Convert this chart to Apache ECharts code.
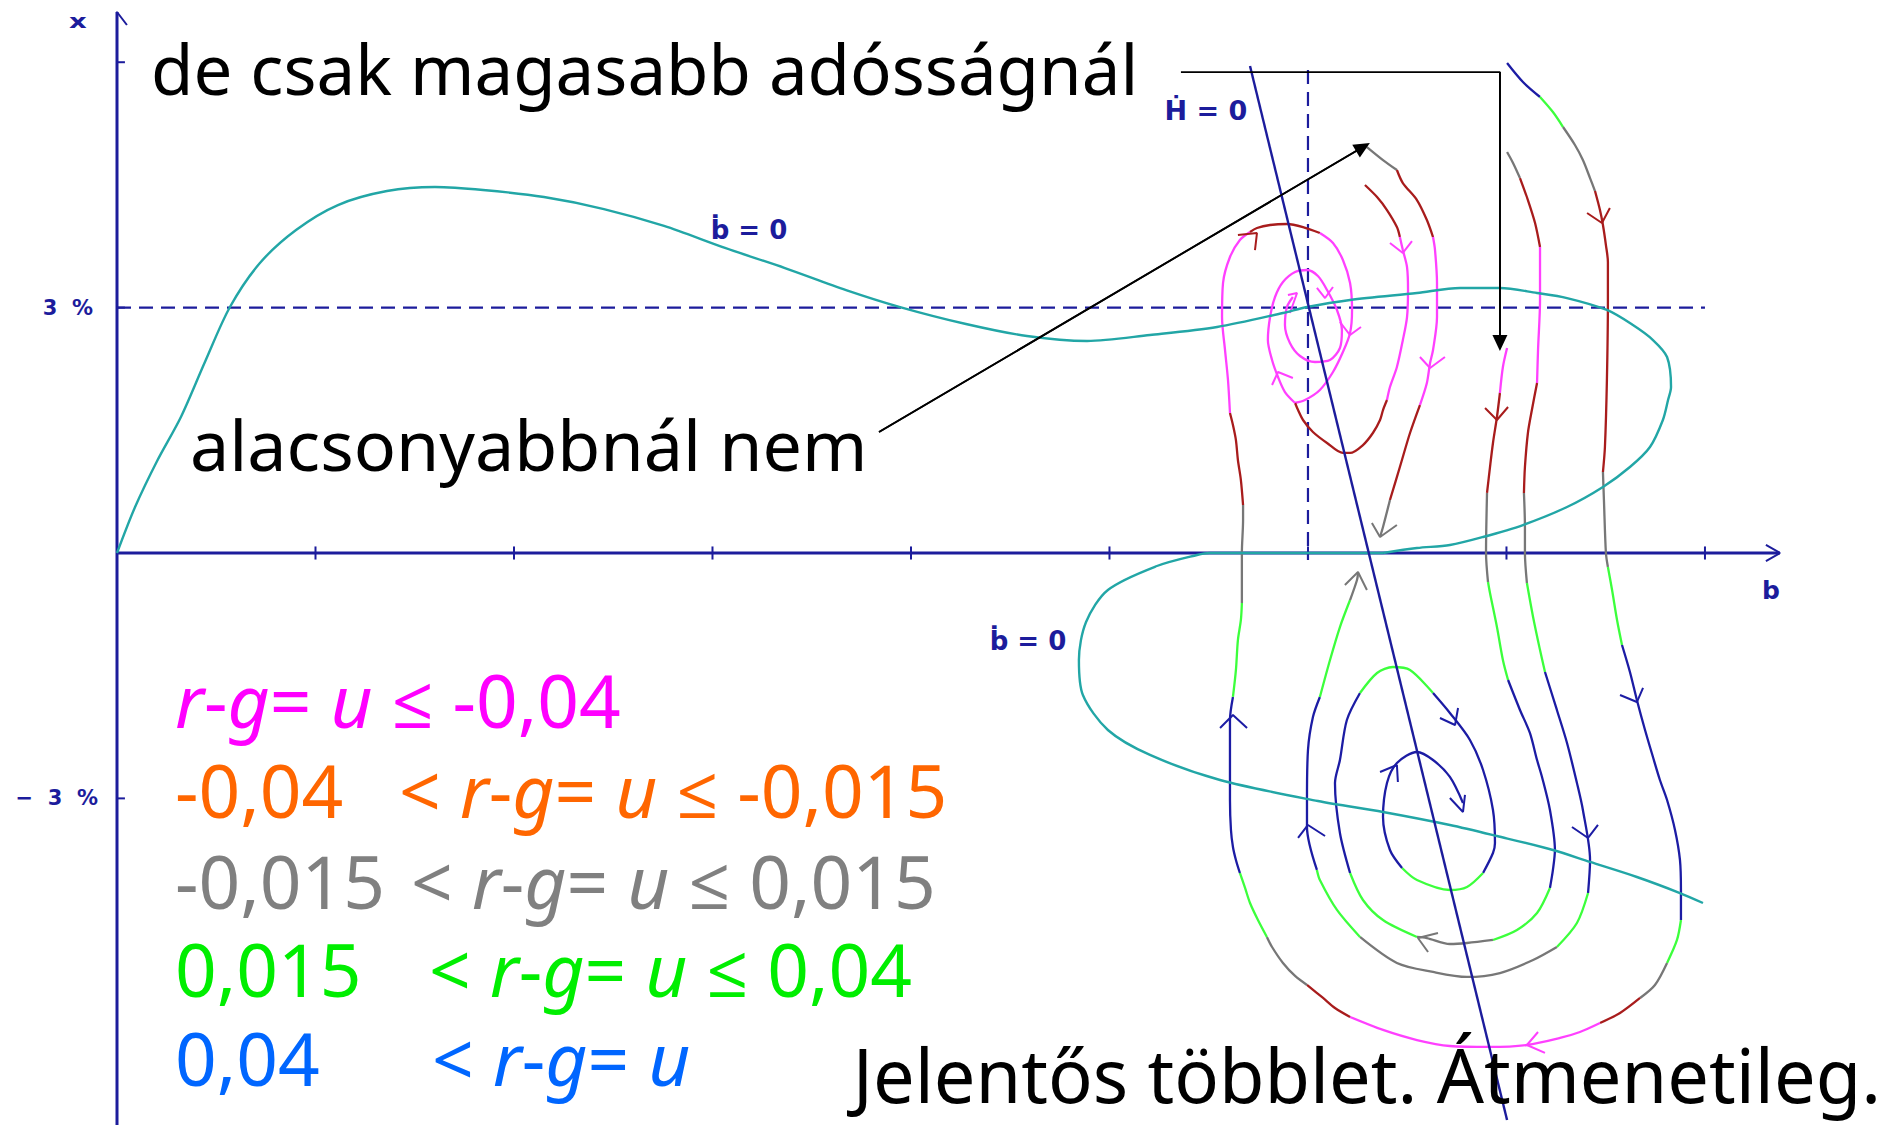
<!DOCTYPE html>
<html>
<head>
<meta charset="utf-8">
<script src="https://cdn.jsdelivr.net/npm/echarts@6/dist/echarts.min.js"></script>
<style>
  html, body { margin: 0; padding: 0; background: #ffffff; }
  #chart { width: 1894px; height: 1125px; }
</style>
</head>
<body>
<div id="chart"></div>
<script>
// ---- phase plane: b (debt) on the horizontal axis, x (primary balance, %) vertically ----
// regimes of u = r - g : 0 magenta, 1 dark red, 2 gray, 3 green, 4 blue
const REGIME_COLORS = ['#ff40ff', '#a81c1c', '#777777', '#3cff3c', '#1c1ca4'];
const AXIS_BLUE = '#1c1c9c';
const TEAL = '#22a6a6';

const B_MAX = 8.378, X_MIN = -6.993, X_MAX = 6.614;
const xTickValues = [1, 2, 3, 4, 5, 6, 7, 8];
const yTickValues = [6, 3, -3];
const yTickLabels = ['3  %', '\u2212  3  %'];

// b-dot = 0 isocline
const bNullUpper = [[0,0],[0.091,0.562],[0.202,1.125],[0.322,1.663],[0.443,2.335],[0.569,3.007],[0.720,3.545],[0.902,3.949],[1.113,4.254],[1.360,4.425],[1.602,4.474],[1.844,4.438],[2.151,4.352],[2.453,4.205],[2.756,3.998],[3.063,3.729],[3.365,3.484],[3.673,3.215],[3.945,3.007],[4.277,2.800],[4.584,2.653],[4.887,2.592],[5.204,2.665],[5.542,2.763],[5.874,2.934],[5.995,3.007],[6.212,3.093],[6.549,3.179],[6.766,3.240],[6.967,3.240],[7.154,3.179],[7.305,3.117],[7.506,2.971],[7.637,2.787],[7.738,2.604],[7.809,2.396],[7.829,2.029],[7.814,1.870],[7.788,1.626],[7.723,1.296],[7.622,1.051],[7.486,0.807],[7.305,0.562],[7.083,0.342],[6.882,0.196],[6.715,0.098],[6.549,0.061],[6.378,0]];
const bNullLower = [[6.378,0],[5.506,0],[5.441,-0.024],[5.239,-0.159],[4.992,-0.452],[4.882,-0.844],[4.846,-1.308],[4.866,-1.736],[4.992,-2.164],[5.204,-2.469],[5.557,-2.775],[6.050,-3.032],[6.378,-3.166],[6.715,-3.325],[6.952,-3.460],[7.234,-3.631],[7.421,-3.777],[7.657,-3.961],[7.874,-4.157],[7.990,-4.279]];

// H-dot = 0 isocline
const hNull = [[5.708,5.953],[7.003,-6.932]];

// reference levels
const dashX3 = [[0,3],[8,3]];
const dashB6 = [[6,5.905],[6,-0.086]];

// trajectories: [regime, points]
const trajOuter = [
  [4, [[7.003,5.990],[7.083,5.758],[7.169,5.575]]],
  [3, [[7.169,5.575],[7.234,5.391],[7.285,5.208]]],
  [2, [[7.285,5.208],[7.345,4.988],[7.385,4.804],[7.421,4.584],[7.446,4.425]]],
  [1, [[7.446,4.425],[7.471,4.193],[7.486,4.010],[7.501,3.765],[7.511,3.557],[7.511,3.093],[7.506,2.115],[7.496,1.296],[7.486,0.990]]],
  [2, [[7.486,0.990],[7.491,0.648],[7.501,0],[7.511,-0.171]]],
  [3, [[7.511,-0.171],[7.532,-0.452],[7.557,-0.819],[7.582,-1.125]]],
  [4, [[7.582,-1.125],[7.622,-1.455],[7.657,-1.797],[7.698,-2.164],[7.738,-2.494],[7.773,-2.775],[7.809,-3.020],[7.849,-3.386],[7.874,-3.753],[7.879,-4.120],[7.879,-4.487]]],
  [3, [[7.879,-4.487],[7.859,-4.731],[7.809,-5.012]]],
  [2, [[7.809,-5.012],[7.748,-5.281],[7.673,-5.440]]],
  [1, [[7.673,-5.440],[7.572,-5.624],[7.471,-5.746]]],
  [0, [[7.471,-5.746],[7.370,-5.856],[7.270,-5.929],[7.103,-6.015],[6.917,-6.039],[6.715,-6.027],[6.549,-5.954],[6.378,-5.831],[6.212,-5.672]]],
  [1, [[6.212,-5.672],[6.136,-5.562],[6.076,-5.440],[5.995,-5.281]]],
  [2, [[5.995,-5.281],[5.935,-5.171],[5.874,-5.012],[5.819,-4.817],[5.793,-4.694]]],
  [3, [[5.793,-4.694],[5.748,-4.487],[5.708,-4.279],[5.683,-4.095],[5.657,-3.912]]],
  [4, [[5.657,-3.912],[5.637,-3.753],[5.622,-3.594],[5.612,-3.386],[5.607,-3.020],[5.607,-2.531],[5.607,-2.042],[5.622,-1.760]]],
  [3, [[5.622,-1.760],[5.637,-1.430],[5.647,-1.064],[5.662,-0.819],[5.667,-0.611]]],
  [2, [[5.667,-0.611],[5.667,-0.208],[5.667,0],[5.673,0.403],[5.673,0.587]]],
  [1, [[5.673,0.587],[5.662,0.892],[5.647,1.137],[5.637,1.381],[5.622,1.565],[5.607,1.712]]],
  [0, [[5.607,1.712],[5.597,2.115],[5.582,2.482],[5.567,2.885],[5.572,3.301],[5.607,3.619],[5.657,3.826],[5.708,3.924]]],
  [1, [[5.708,3.924],[5.743,3.973],[5.809,4.010],[5.894,4.022],[5.975,3.985],[6.060,3.912]]],
  [0, [[6.060,3.912],[6.126,3.790],[6.176,3.582],[6.212,3.301],[6.222,2.971],[6.212,2.690],[6.176,2.457],[6.126,2.213],[6.060,1.993],[5.985,1.870],[5.935,1.834]]]
];
const trajSpiral = [
  [1, [[6.287,4.499],[6.348,4.352],[6.398,4.193],[6.448,3.985],[6.463,3.863]]],
  [0, [[6.463,3.863],[6.478,3.704],[6.499,3.496],[6.504,3.215],[6.499,2.885],[6.478,2.604],[6.448,2.274],[6.413,2.029],[6.398,1.870]]],
  [1, [[6.398,1.870],[6.378,1.748],[6.363,1.626],[6.327,1.467],[6.277,1.320],[6.212,1.223],[6.176,1.223],[6.096,1.345],[6.025,1.479],[5.975,1.626],[5.950,1.748],[5.935,1.834]]],
  [0, [[5.935,1.834],[5.884,1.968],[5.849,2.152],[5.819,2.359],[5.798,2.604],[5.809,2.885],[5.834,3.130],[5.874,3.313],[5.935,3.435],[5.995,3.460],[6.050,3.386],[6.096,3.215],[6.146,2.971],[6.171,2.726],[6.161,2.506],[6.111,2.359],[6.035,2.335],[5.960,2.408],[5.909,2.567],[5.884,2.787],[5.894,3.007],[5.924,3.130]]]
];
const trajHigh = [
  [2, [[6.297,4.963],[6.378,4.804],[6.448,4.682]]],
  [1, [[6.448,4.682],[6.478,4.523],[6.549,4.315],[6.599,4.071],[6.630,3.863]]],
  [0, [[6.630,3.863],[6.640,3.704],[6.650,3.301],[6.650,2.885],[6.630,2.482],[6.615,2.323],[6.599,2.078],[6.564,1.809]]],
  [1, [[6.564,1.809],[6.514,1.467],[6.463,1.051],[6.413,0.648]]],
  [2, [[6.413,0.648],[6.378,0.318],[6.363,0.196]]]
];
const trajMid = [
  [2, [[7.003,4.902],[7.033,4.768],[7.068,4.584]]],
  [1, [[7.068,4.584],[7.108,4.315],[7.144,4.034],[7.169,3.741]]],
  [0, [[7.169,3.741],[7.169,3.093],[7.159,2.482],[7.154,2.078]]],
  [1, [[7.154,2.078],[7.128,1.748],[7.108,1.467],[7.093,1.051],[7.088,0.734]]],
  [2, [[7.088,0.734],[7.093,0.318],[7.093,0],[7.103,-0.367]]],
  [3, [[7.103,-0.367],[7.134,-0.782],[7.169,-1.186],[7.194,-1.455]]],
  [4, [[7.194,-1.455],[7.254,-1.919],[7.305,-2.323],[7.355,-2.812],[7.385,-3.142],[7.421,-3.753],[7.411,-4.157]]],
  [3, [[7.411,-4.157],[7.355,-4.523],[7.254,-4.817]]],
  [2, [[7.254,-4.817],[7.134,-4.976],[6.967,-5.135],[6.801,-5.183],[6.630,-5.122],[6.448,-5.012],[6.262,-4.694]]],
  [3, [[6.262,-4.694],[6.146,-4.364],[6.060,-3.998],[6.045,-3.875]]],
  [4, [[6.045,-3.875],[5.995,-3.350],[5.995,-3.020],[6.000,-2.408],[6.025,-2.005],[6.060,-1.760]]],
  [3, [[6.060,-1.760],[6.111,-1.308],[6.161,-0.905],[6.212,-0.575]]],
  [2, [[6.212,-0.575],[6.247,-0.330],[6.252,-0.245]]]
];
const trajInner = [
  [0, [[7.003,2.506],[6.982,2.274],[6.967,1.956]]],
  [1, [[6.967,1.956],[6.952,1.663],[6.932,1.345],[6.917,1.051],[6.902,0.734]]],
  [2, [[6.902,0.734],[6.897,0],[6.907,-0.355]]],
  [3, [[6.907,-0.355],[6.917,-0.489],[6.952,-0.905],[6.982,-1.308],[7.008,-1.553]]],
  [4, [[7.008,-1.553],[7.068,-1.919],[7.118,-2.200],[7.154,-2.531],[7.179,-2.738],[7.219,-3.142],[7.244,-3.631],[7.234,-3.875],[7.219,-4.095]]],
  [3, [[7.219,-4.095],[7.154,-4.401],[7.053,-4.609],[6.932,-4.731]]],
  [2, [[6.932,-4.731],[6.801,-4.768],[6.715,-4.780],[6.599,-4.707],[6.549,-4.694]]],
  [3, [[6.549,-4.694],[6.378,-4.487],[6.277,-4.242],[6.212,-3.912]]],
  [4, [[6.212,-3.912],[6.161,-3.423],[6.136,-2.812],[6.161,-2.531],[6.196,-2.042],[6.262,-1.712]]],
  [3, [[6.262,-1.712],[6.348,-1.467],[6.428,-1.394],[6.514,-1.430],[6.630,-1.712]]],
  [4, [[6.630,-1.712],[6.715,-1.956],[6.816,-2.286],[6.882,-2.653],[6.932,-3.142],[6.942,-3.545],[6.932,-3.668],[6.882,-3.912]]],
  [3, [[6.882,-3.912],[6.801,-4.083],[6.715,-4.120],[6.549,-3.998],[6.474,-3.851]]],
  [4, [[6.474,-3.851],[6.413,-3.631],[6.378,-3.227],[6.398,-2.812],[6.448,-2.567],[6.549,-2.433],[6.630,-2.531],[6.715,-2.738],[6.781,-3.056]]]
];

// direction marks on the trajectories: [regime, [arm, tip, arm]]
const arrowHeads = [
  [1, [[7.406,4.157],[7.481,4.034],[7.521,4.218]]],
  [4, [[7.572,-1.736],[7.657,-1.822],[7.688,-1.650]]],
  [0, [[7.159,-5.856],[7.103,-6.015],[7.194,-6.112]]],
  [4, [[5.557,-2.139],[5.622,-1.980],[5.693,-2.139]]],
  [1, [[5.647,3.888],[5.743,3.912],[5.733,3.704]]],
  [0, [[6.161,2.824],[6.212,2.665],[6.267,2.763]]],
  [0, [[6.045,3.240],[6.086,3.117],[6.126,3.252]]],
  [0, [[5.819,2.054],[5.849,2.213],[5.924,2.139]]],
  [0, [[6.413,3.790],[6.478,3.668],[6.524,3.814]]],
  [0, [[6.564,2.396],[6.615,2.262],[6.690,2.396]]],
  [2, [[6.322,0.367],[6.363,0.196],[6.448,0.342]]],
  [2, [[6.186,-0.391],[6.252,-0.232],[6.297,-0.452]]],
  [4, [[7.330,-3.350],[7.411,-3.484],[7.461,-3.325]]],
  [4, [[5.950,-3.484],[6.000,-3.325],[6.086,-3.460]]],
  [1, [[6.892,1.773],[6.952,1.626],[7.008,1.785]]],
  [2, [[6.655,-4.646],[6.554,-4.707],[6.605,-4.878]]],
  [4, [[6.665,-2.017],[6.741,-2.103],[6.756,-1.895]]],
  [4, [[6.363,-2.677],[6.448,-2.592],[6.453,-2.800]]],
  [4, [[6.715,-2.995],[6.781,-3.166],[6.791,-2.958]]],
  [0, [[5.899,3.154],[5.945,3.179],[5.909,2.934]]]
];

// annotation pointers
const pointerHigh = [[5.360,5.880],[6.967,5.880],[6.967,2.567]];
const pointerLow = [[3.839,1.479],[6.277,4.963]];

// ---- build series ----
const series = [];
function addLine(data, color, width, z, extra) {
  series.push(Object.assign({
    type: 'line', data: data, symbol: 'none', showSymbol: false,
    clip: false, silent: true, animation: false, z: z,
    lineStyle: { color: color, width: width }
  }, extra || {}));
}

// axes with open arrow heads and ticks
addLine([[0, X_MIN], [0, X_MAX]], AXIS_BLUE, 3, 1);
addLine([[0, 0], [B_MAX, 0]], AXIS_BLUE, 3, 1);
addLine([[-0.050, 6.455], [0, X_MAX], [0.050, 6.455]], AXIS_BLUE, 2, 1);
addLine([[B_MAX - 0.071, 0.098], [B_MAX, 0], [B_MAX - 0.071, -0.098]], AXIS_BLUE, 2, 1);
xTickValues.forEach(v => addLine([[v, -0.08], [v, 0.08]], AXIS_BLUE, 2, 1));
yTickValues.forEach(v => addLine([[-0.045, v], [0.040, v]], AXIS_BLUE, 2, 1));

// dashed reference levels
addLine(dashX3, AXIS_BLUE, 2.2, 2, { lineStyle: { color: AXIS_BLUE, width: 2.2, type: [14, 8] } });
addLine(dashB6, AXIS_BLUE, 2.2, 2, { lineStyle: { color: AXIS_BLUE, width: 2.2, type: [14, 8] } });

// trajectories
[trajOuter, trajSpiral, trajHigh, trajMid, trajInner].forEach(path => {
  path.forEach(([reg, pts]) => addLine(pts, REGIME_COLORS[reg], 2.3, 3, { smooth: 0.3 }));
});
arrowHeads.forEach(([reg, pts]) => addLine(pts, REGIME_COLORS[reg], 2, 3));

// isoclines
addLine(bNullUpper, TEAL, 2.4, 4, { smooth: 0.3 });
addLine(bNullLower, TEAL, 2.4, 4, { smooth: 0.3 });
addLine(hNull, AXIS_BLUE, 2.4, 5);

// annotation pointers
addLine(pointerHigh, '#000000', 1.8, 6, {
  markLine: {
    silent: true, animation: false, symbol: ['none', 'triangle'], symbolSize: [15, 16],
    lineStyle: { color: '#000000', width: 1.8, type: 'solid' }, label: { show: false },
    data: [[{ coord: pointerHigh[1] }, { coord: pointerHigh[2] }]]
  }
});
addLine(pointerLow, '#000000', 1.8, 6, {
  markLine: {
    silent: true, animation: false, symbol: ['none', 'triangle'], symbolSize: [15, 16],
    lineStyle: { color: '#000000', width: 1.8, type: 'solid' }, label: { show: false },
    data: [[{ coord: pointerLow[0] }, { coord: pointerLow[1] }]]
  }
});

// ---- text ----
const SANS = '"Noto Sans", "Open Sans", sans-serif';
const SMALL = '"DejaVu Sans", sans-serif';
function txt(x, y, text, size, fill, align, family, weight, extra) {
  return Object.assign({
    type: 'text', x: x, y: y, silent: true, z: 10,
    style: {
      text: text, fill: fill, fontSize: size, fontFamily: family || SANS,
      fontWeight: weight || 'normal',
      align: align || 'left', verticalAlign: 'middle',
      textAlign: align || 'left', textVerticalAlign: 'middle'
    }
  }, extra || {});
}
function richLine(x, y, text, size, fill) {
  const base = { fill: fill, fontSize: size, fontFamily: SANS };
  return {
    type: 'text', x: x, y: y, silent: true, z: 10,
    style: {
      text: text, fill: fill, fontSize: size, fontFamily: SANS,
      align: 'left', verticalAlign: 'middle', textAlign: 'left', textVerticalAlign: 'middle',
      rich: {
        i: Object.assign({ fontStyle: 'italic' }, base),
        n: Object.assign({}, base)
      }
    }
  };
}
const LEG = ['#ff00ff', '#ff6600', '#808080', '#00ee00', '#0066ff'];
const LEG_SIZE = 73;
const relation = '{i|r}{n|-}{i|g}{n|= }{i|u}';

const graphic = [
  txt(78, 22, 'x', 19, AXIS_BLUE, 'center', SMALL, 'bold', { scaleX: 1.45 }),
  txt(1771, 590, 'b', 25, AXIS_BLUE, 'center', SMALL, 'bold'),
  txt(93, 308, yTickLabels[0], 21, AXIS_BLUE, 'right', SMALL, 'bold'),
  txt(98, 798, yTickLabels[1], 21, AXIS_BLUE, 'right', SMALL, 'bold'),
  txt(1206, 110, 'Ḣ = 0', 27, AXIS_BLUE, 'center', SMALL, 'bold'),
  txt(749, 230, 'ḃ = 0', 26, AXIS_BLUE, 'center', SMALL, 'bold'),
  txt(1028, 641, 'ḃ = 0', 26, AXIS_BLUE, 'center', SMALL, 'bold'),
  txt(151, 68, 'de csak magasabb adósságnál', 69, '#000000', 'left'),
  txt(190, 444, 'alacsonyabbnál nem', 70, '#000000', 'left'),
  txt(1881, 1074, 'Jelentős többlet. Átmenetileg.', 74, '#000000', 'right'),
  richLine(175, 699, relation + '{n| ≤ -0,04}', LEG_SIZE, LEG[0]),
  txt(175, 789, '-0,04', LEG_SIZE, LEG[1], 'left'),
  richLine(399, 789, '{n|< }' + relation + '{n| ≤ -0,015}', LEG_SIZE, LEG[1]),
  txt(175, 880, '-0,015', LEG_SIZE, LEG[2], 'left'),
  richLine(411, 880, '{n|< }' + relation + '{n| ≤ 0,015}', LEG_SIZE, LEG[2]),
  txt(175, 968, '0,015', LEG_SIZE, LEG[3], 'left'),
  richLine(429, 968, '{n|< }' + relation + '{n| ≤ 0,04}', LEG_SIZE, LEG[3]),
  txt(175, 1057, '0,04', LEG_SIZE, LEG[4], 'left'),
  richLine(432, 1057, '{n|< }' + relation, LEG_SIZE, LEG[4])
];

const chart = echarts.init(document.getElementById('chart'), null, { renderer: 'svg' });
chart.setOption({
  backgroundColor: '#ffffff',
  animation: false,
  grid: { left: 117, right: 114, top: 12, bottom: 0, containLabel: false },
  xAxis: { type: 'value', min: 0, max: B_MAX, show: false },
  yAxis: { type: 'value', min: X_MIN, max: X_MAX, show: false },
  series: series,
  graphic: graphic
});
</script>
</body>
</html>
